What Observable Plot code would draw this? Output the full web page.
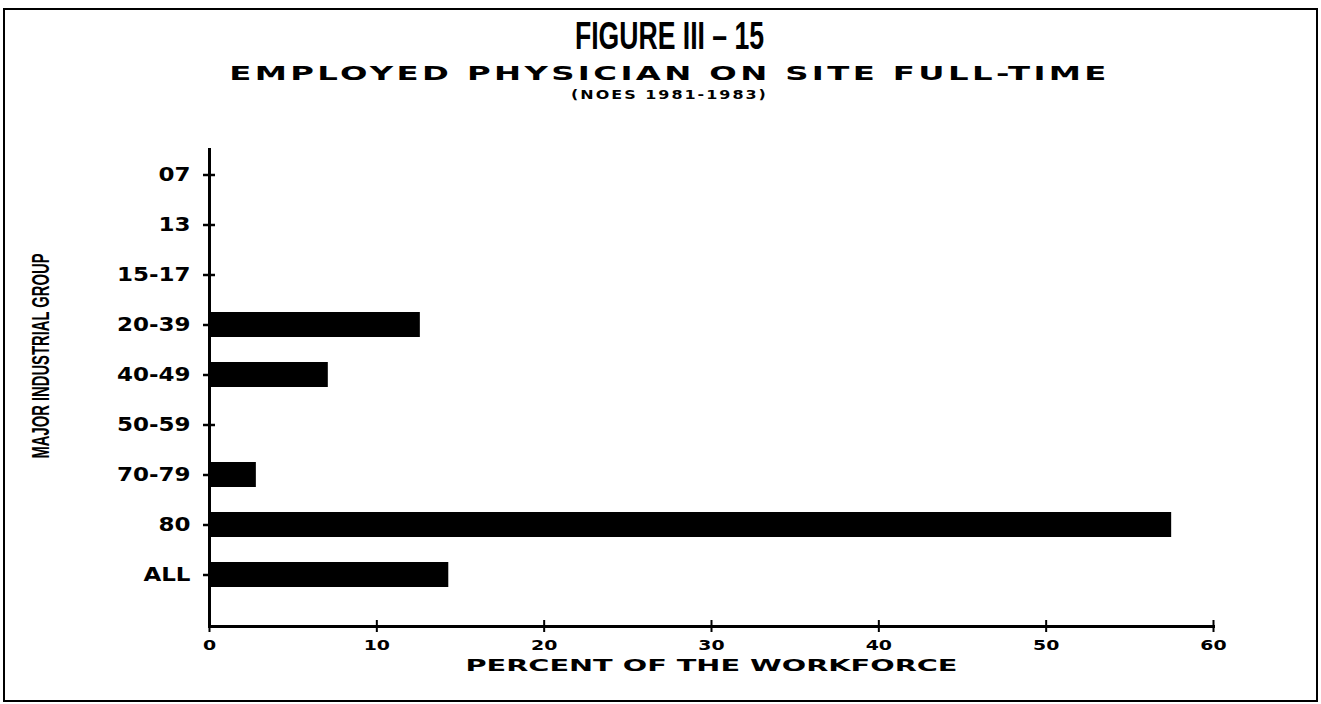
<!DOCTYPE html>
<html>
<head>
<meta charset="utf-8">
<script src="https://cdn.jsdelivr.net/npm/d3@7"></script>
<script src="https://cdn.jsdelivr.net/npm/@observablehq/plot@0.6"></script>
<style>
  html, body { margin: 0; padding: 0; background: #fff; }
  #page { position: relative; width: 1321px; height: 704px; overflow: hidden; background: #fff; }
  #border { position: absolute; left: 3px; top: 8px; width: 1311px; height: 690px; border: 2px solid #000; }
  .t { position: absolute; left: 9px; width: 1321px; text-align: center; color: #000; white-space: nowrap; }
  #title { top: 15px; font-family: "Liberation Sans", sans-serif; font-weight: bold; font-size: 38px; transform: scaleX(0.7); }
  #subtitle { top: 62px; font-family: "DejaVu Sans", sans-serif; font-weight: bold; font-size: 19px; letter-spacing: 2px; transform: scaleX(1.7); }
  #sub2 { top: 88px; font-family: "DejaVu Sans", sans-serif; font-weight: bold; font-size: 12px; letter-spacing: 1.5px; transform: scaleX(1.33); }
  #chart { position: absolute; left: 0; top: 110px; }
  #chart svg { background: transparent !important; overflow: visible; }
</style>
</head>
<body>
<div id="page">
  <div id="border"></div>
  <div class="t" id="title">FIGURE III – 15</div>
  <div class="t" id="subtitle">EMPLOYED PHYSICIAN ON SITE FULL-TIME</div>
  <div class="t" id="sub2">(NOES 1981-1983)</div>
  <div id="chart"></div>
</div>
<script>
const groups = ["07", "13", "15-17", "20-39", "40-49", "50-59", "70-79", "80", "ALL"];
const percents = [0, 0, 0, 12.6, 7.1, 0, 2.8, 57.5, 14.3];
const xTicks = [0, 10, 20, 30, 40, 50, 60];
const xLabel = "PERCENT OF THE WORKFORCE";
const yLabel = "MAJOR INDUSTRIAL GROUP";

const data = groups.map((g, i) => ({group: g, pct: percents[i]}));

const H = 580, top0 = 110;
const chart = Plot.plot({
  width: 1321,
  height: H,
  marginLeft: 209,
  marginRight: 108,
  marginTop: 148 - top0,
  marginBottom: H - (626 - top0),
  style: {fontFamily: "DejaVu Sans, sans-serif", color: "#000", background: "transparent"},
  x: {domain: [0, 60], range: [209, 1213]},
  y: {domain: groups, range: [146.5 - top0, 601.5 - top0], paddingInner: 0.5, paddingOuter: 0.25},
  marks: [
    Plot.barX(data.filter(d => d.pct > 0), {x: "pct", y: "group", fill: "#000"}),
    Plot.axisY({tickSize: 12, dx: 6, tickPadding: 13, fontSize: 20, fontWeight: "bold", letterSpacing: 1, strokeWidth: 2.5, label: null}),
    Plot.axisX({ticks: xTicks, tickSize: 12, dy: -6, tickPadding: 8, fontSize: 14, fontWeight: "bold", letterSpacing: 1, strokeWidth: 2, tickFormat: d => String(d), label: null}),
    Plot.frame({anchor: "bottom", stroke: "#000", strokeWidth: 3}),
    Plot.ruleX([0], {stroke: "#000", strokeWidth: 3}),
    Plot.text([xLabel], {frameAnchor: "bottom", x: 30, dy: 44, text: d => d, fontSize: 16, fontWeight: "bold", letterSpacing: 1.5}),
    Plot.text([yLabel], {frameAnchor: "left", textAnchor: "middle", rotate: -90, text: d => d, fontSize: 24, fontWeight: "bold", fontFamily: "Liberation Sans, sans-serif"})
  ]
});
// widen / narrow lettering to match the original's extended and condensed type
d3.select(chart).selectAll("text").each(function() {
  const t = this.textContent;
  if (t === xLabel) {
    this.setAttribute("textLength", 492);
    this.setAttribute("lengthAdjust", "spacingAndGlyphs");
  }
  if (t === yLabel) {
    this.setAttribute("transform", `translate(41,${355.5 - top0}) rotate(-90)`);
    this.setAttribute("text-anchor", "middle");
    this.setAttribute("textLength", 205);
    this.setAttribute("lengthAdjust", "spacingAndGlyphs");
  }
});
d3.select(chart).selectAll('g[aria-label="y-axis tick label"] text').each(function() {
  const tr = this.getAttribute("transform") || "";
  this.setAttribute("transform", tr + " scale(1.15,1)");
});
d3.select(chart).selectAll('g[aria-label="x-axis tick label"] text').each(function() {
  const tr = this.getAttribute("transform") || "";
  this.setAttribute("transform", tr + " scale(1.35,1)");
});
document.getElementById("chart").appendChild(chart);
</script>
</body>
</html>
